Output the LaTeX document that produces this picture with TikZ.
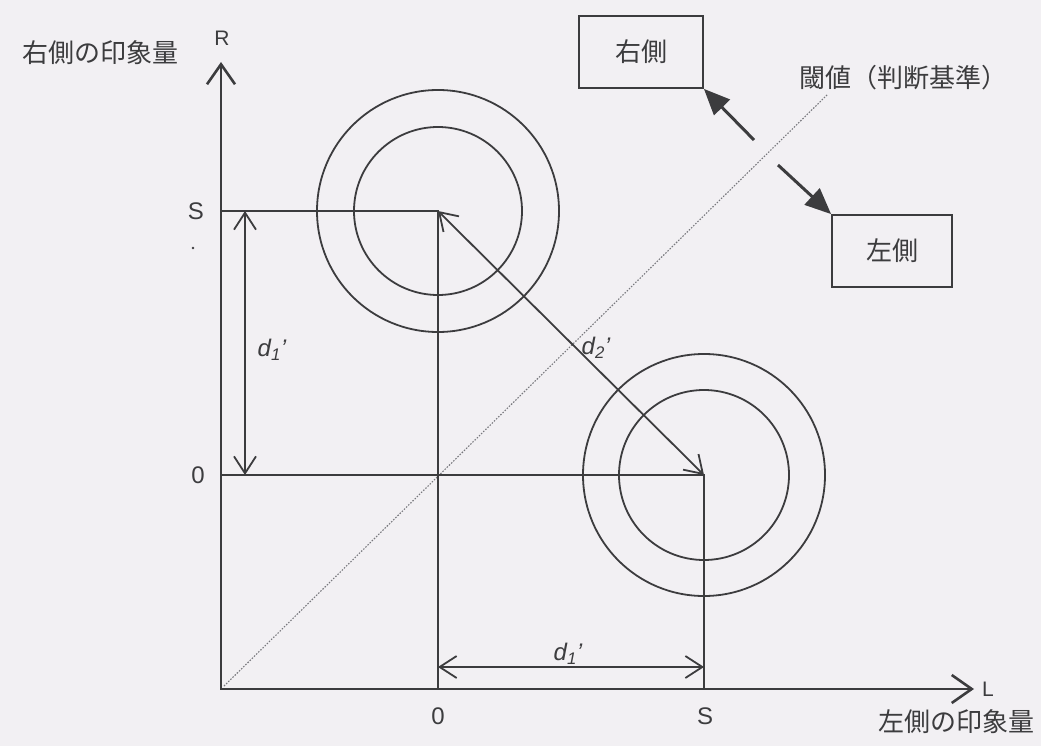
\documentclass[tikz,border=0pt]{standalone}
\usepackage{fontspec}
\setmainfont{Liberation Sans}
\newfontfamily\jp{Noto Sans CJK JP}
\usetikzlibrary{arrows.meta}
\definecolor{bg}{RGB}{242,240,243}
\definecolor{ink}{RGB}{60,60,62}
\definecolor{dotc}{RGB}{120,120,125}
\tikzset{
  axisline/.style={draw=ink, line width=2.8pt},
  thinline/.style={draw=ink, line width=1.8pt},
  diagline/.style={draw=dotc, line width=1.1pt, dash pattern=on 1.5pt off 1.5pt},
  bigbarb/.tip={Straight Barb[length=20pt,width=28pt,line width=2.6pt]},
  barb/.tip={Straight Barb[length=17pt,width=22pt,line width=1.8pt]},
  fatarrow/.style={draw=ink, line width=3pt, -{Triangle[length=26pt,width=22pt]}},
  jplabel/.style={text=ink, font=\jp\fontsize{26pt}{30pt}\selectfont, inner sep=0pt},
  latlabel/.style={text=ink, font=\fontsize{24pt}{28pt}\selectfont, inner sep=0pt},
  dlabel/.style={text=ink, font=\fontsize{24pt}{28pt}\selectfont\itshape, inner sep=0pt},
  boxnode/.style={draw=ink, line width=1.8pt, text=ink, font=\jp\fontsize{26pt}{30pt}\selectfont, inner sep=0pt},
}
\begin{document}
\begin{tikzpicture}[x=1pt,y=-1pt]
\fill[bg] (0,0) rectangle (1041,746);
\useasboundingbox (0,0) rectangle (1041,746);

% key points
\coordinate (O) at (221,689);
\coordinate (Ytop) at (221,62);
\coordinate (Xend) at (974,689);
\coordinate (Sy) at (221,211);
\coordinate (Zy) at (221,475);
\coordinate (C1) at (438,211);
\coordinate (C2) at (704,475);
\coordinate (Zx) at (438,689);
\coordinate (Sx) at (704,689);
\coordinate (V1) at (245,211);
\coordinate (V2) at (245,475);
\coordinate (H1) at (438,667);
\coordinate (H2) at (704,667);
\coordinate (D1) at (224,686);
\coordinate (D2) at (827,95);

% threshold diagonal
\draw[diagline] (D1) -- (D2);

% axes
\draw[axisline, {bigbarb}-{bigbarb}] (Ytop) -- (O) -- (Xend);

% grid lines
\draw[thinline] (Sy) -- (C1) -- (Zx);
\draw[thinline] (Zy) -- (C2) -- (Sx);

% circles
\draw[thinline] (C1) circle[radius=84pt];
\draw[thinline] (C1) circle[radius=121pt];
\draw[thinline] (C2) circle[radius=85pt];
\draw[thinline] (C2) circle[radius=121pt];

% distance arrows
\draw[thinline, {barb}-{barb}] (V1) -- (V2);
\draw[thinline, {barb}-{barb}] (H1) -- (H2);
\draw[thinline, {barb}-{barb}] (C2) -- (C1);

% labels
\node[jplabel] (ylab) at (100,53) {右側の印象量};
\node[latlabel, font=\fontsize{21pt}{24pt}\selectfont] (R) at (222,38) {R};
\node[jplabel] (xlab) at (956,722) {左側の印象量};
\node[latlabel, font=\fontsize{21pt}{24pt}\selectfont] (L) at (988,689) {L};
\node[latlabel] (Sylab) at (196,211) {S};
\node[latlabel] (Zylab) at (198,475) {0};
\node[latlabel] (Zxlab) at (438,716) {0};
\node[latlabel] (Sxlab) at (705,716) {S};
\fill[ink] (193,248) circle[radius=1.3pt];

\node[dlabel] (d1v) at (272,350) {d\textsubscript{1}’};
\node[dlabel] (d1h) at (568,654) {d\textsubscript{1}’};
\node[dlabel] (d2) at (596,348) {d\textsubscript{2}’};

\node[jplabel] (thr) at (903,78) {閾値（判断基準）};

% boxes
\node[boxnode, minimum width=124pt, minimum height=72pt] (rbox) at (641,52) {右側};
\node[boxnode, minimum width=120pt, minimum height=72pt] (lbox) at (892,251) {左側};

% direction arrows
\coordinate (a1s) at (754,140);
\coordinate (a2s) at (778,165);
\draw[fatarrow] (a1s) -- (rbox.south east);
\draw[fatarrow] (a2s) -- (lbox.north west);
\end{tikzpicture}
\end{document}
